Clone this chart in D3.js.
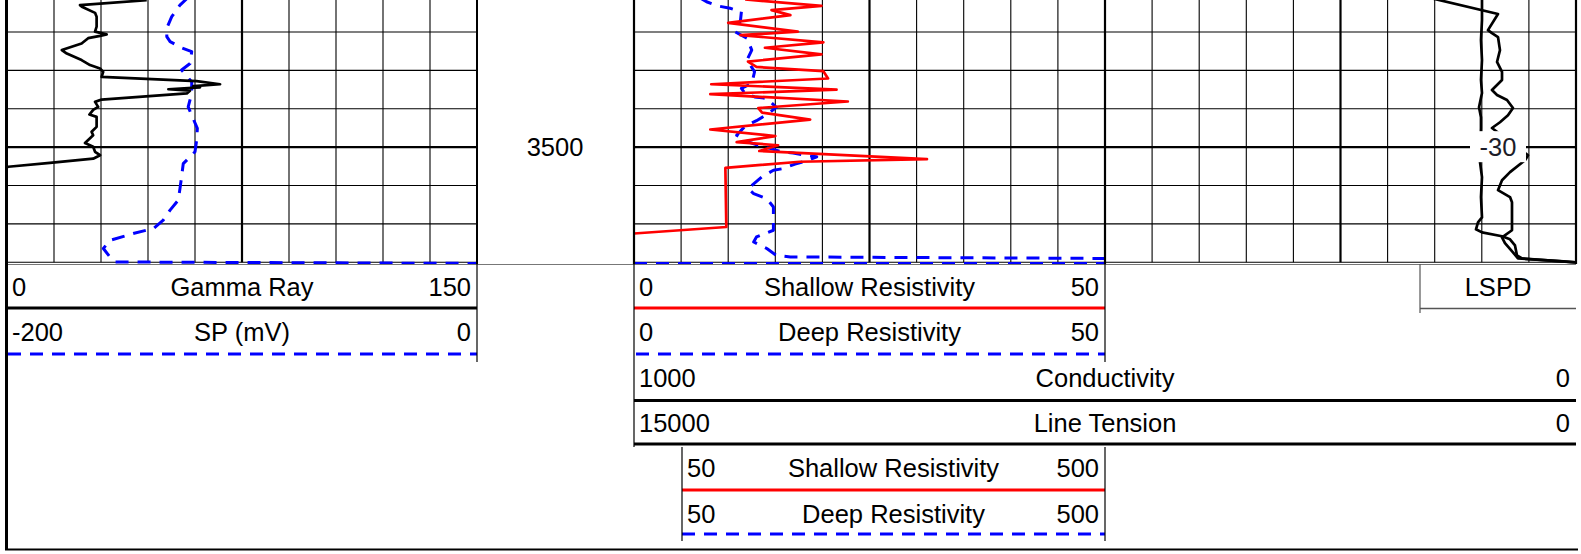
<!DOCTYPE html>
<html><head><meta charset="utf-8">
<script src="https://cdn.jsdelivr.net/npm/d3@7"></script>
<style>
html,body{margin:0;padding:0;background:#fff;}
svg{display:block;font-family:"Liberation Sans",Arial,sans-serif;}
</style></head><body>
<svg id="c" width="1581" height="554"></svg>
<script>
// ---------------- DATA ----------------
const depthTicks = [3460, 3470, 3480, 3490, 3500, 3510, 3520, 3530];
const depthLabels = ["3500"];

const gammaDepth = [3461.7,3463.0,3463.4,3465.0,3466.0,3468.6,3469.9,3470.6,3471.0,3471.6,3473.0,3474.7,3475.6,3477.3,3478.6,3479.5,3480.4,3481.7,3482.8,3483.6,3484.1,3484.4,3484.9,3485.3,3486.0,3487.6,3488.2,3489.5,3490.3,3491.5,3492.1,3494.7,3496.0,3496.9,3498.9,3499.9,3501.2,3502.1,3503.0,3504.1,3505.1,3505.6];
const gammaValue = [44.6,23.3,23.9,28.1,28.6,28.6,28.1,31.8,29.7,25.9,23.8,17.5,19.1,23.8,26.5,29.7,30.7,30.2,60.5,68.0,59.5,61.6,51.5,58.4,57.4,30.2,28.1,29.1,27.5,26.3,28.6,28.6,27.0,27.5,24.9,27.5,28.1,29.7,27.5,13.7,0.4,-1.0];

const spDepth = [3461.0,3463.0,3466.0,3469.0,3471.2,3472.5,3474.1,3475.1,3478.2,3479.9,3483.0,3486.0,3489.5,3491.7,3495.1,3498.2,3501.2,3504.3,3507.7,3510.8,3513.8,3516.4,3519.0,3521.2,3522.5,3524.3,3526.4,3528.6,3529.9,3530.0,3530.3];
const spValue = [-123.0,-126.4,-129.9,-132.0,-132.0,-130.6,-125.7,-121.4,-122.1,-125.7,-121.4,-121.4,-122.9,-121.4,-119.0,-119.3,-120.0,-125.0,-125.7,-126.4,-127.1,-130.6,-133.5,-137.7,-146.3,-156.2,-159.0,-156.2,-154.0,-120.0,0.5];

const shallowDepth = [3461.5,3463.2,3464.3,3465.6,3467.6,3469.9,3470.8,3472.7,3474.1,3475.8,3477.7,3479.1,3480.2,3482.1,3483.6,3485.0,3486.2,3488.1,3489.8,3491.0,3492.8,3495.4,3497.1,3498.7,3499.5,3501.0,3503.1,3503.8,3505.4,3520.8,3522.5];
const shallowValue = [11.8,19.9,14.6,16.6,10.0,17.4,11.3,20.1,13.9,19.9,12.1,13.0,20.1,20.6,8.2,21.5,8.1,22.7,13.2,13.6,18.7,8.1,15.0,10.9,15.3,13.3,31.1,17.6,9.7,9.8,0.0];

const deepDepth = [3461.1,3462.1,3463.2,3463.8,3464.7,3467.05,3469.9,3471.6,3474.7,3477.3,3480.35,3483.4,3484.7,3486.0,3486.9,3487.3,3489.6,3491.2,3493.1,3494.5,3496.9,3498.6,3499.5,3500.3,3501.2,3501.5,3502.1,3502.5,3503.6,3504.4,3505.6,3506.0,3507.7,3510.8,3512.1,3513.4,3515.6,3518.2,3521.65,3523.4,3524.7,3526.4,3528.2,3528.6,3529.0];
const deepValue = [7.0,7.7,8.9,10.2,11.4,11.3,10.7,12.0,12.5,12.0,12.8,12.5,11.4,11.8,12.8,14.1,15.1,14.3,13.0,11.8,10.9,12.1,13.2,14.4,15.7,16.9,18.2,19.4,18.3,17.1,15.8,14.8,13.6,12.1,12.7,14.1,14.8,14.8,14.8,13.0,12.7,14.1,15.1,16.6,50.5];

const deepBackupDepth = [3530.3, 3530.3];
const deepBackupValue = [50, 500];

const condDepth = [3461.1,3465.3,3469.5,3470.3,3471.3,3474.7,3477.8,3480.4,3482.5,3485.1,3486.4,3487.7,3489.8,3491.7,3493.5,3495.0,3502.1,3503.4,3506.5,3508.6,3511.2,3513.0,3514.35,3521.65,3523.5,3525.0,3527.4,3529.0,3529.7,3530.0];
const condValue = [310,165.6,186.9,178.4,165.6,161.4,167.7,157.1,157.1,178.4,167.7,146.5,133.8,144.4,161.4,178.4,101.9,108.3,140.1,157.1,165.6,140.1,135.9,135.9,157.1,150.8,133.8,123.2,34.0,0];

const tensDepth = [3461.1,3466.9,3472.1,3477.3,3482.5,3485.9,3489.6,3492.2,3495.0,3503.9,3507.8,3513.0,3518.3,3519.6,3521.4,3522.2,3523.2,3524.0,3525.6,3528.2,3529.0,3530.0];
const tensValue = [2994,2994,3026,2994,3026,2994,3089,3026,3026,3057,2994,3026,2994,3121,3185,2994,2357,2102,1943,1879,1720,32];

const lspdLabel = "-30";
const lspdLabelDepth = 3500;

// ---------------- LAYOUT ----------------
const FS = 25.5;
const svg = d3.select("#c");
const T1 = [7, 477], T3 = [634, 1105], T4 = [1105, 1576];
const DEPTH_TOP = 3461.65, DEPTH_BOT = 3530;
const y = d3.scaleLinear().domain([DEPTH_TOP, DEPTH_BOT]).range([0, 262.3]);
const TRACK_BOTTOM = 264.5;

const xGR = d3.scaleLinear().domain([0,150]).range(T1);
const xSP = d3.scaleLinear().domain([-200,0]).range(T1);
const xRes = d3.scaleLinear().domain([0,50]).range(T3);
const xResB = d3.scaleLinear().domain([50,500]).range(T3);
const xCond = d3.scaleLinear().domain([1000,0]).range(T4);
const xTens = d3.scaleLinear().domain([15000,0]).range(T4);

const defs = svg.append("defs");
function clip(id, x0, x1){
  defs.append("clipPath").attr("id", id).append("rect")
    .attr("x", x0).attr("y", 0).attr("width", x1-x0).attr("height", TRACK_BOTTOM);
}
clip("c1", T1[0], T1[1]); clip("c3", T3[0], T3[1]+4); clip("c4", T4[0]-3, T4[1]);

// grid
function grid(tr){
  const g = svg.append("g");
  const gx = d3.scaleLinear().domain([0,10]).range(tr);
  d3.range(1,10).forEach(i=>{
    g.append("line").attr("x1", gx(i)).attr("x2", gx(i)).attr("y1", 0).attr("y2", y(DEPTH_BOT))
      .attr("stroke", "#000").attr("stroke-width", i===5 ? 2.2 : 1.1);
  });
  depthTicks.forEach(d=>{
    g.append("line").attr("x1", tr[0]).attr("x2", tr[1]).attr("y1", y(d)).attr("y2", y(d))
      .attr("stroke", "#000").attr("stroke-width", d % 50 === 0 ? 2.2 : 1.1);
  });
}
grid(T1); grid(T3); grid(T4);

// curves
function curve(depths, values, xs, clipId, color, width, dash){
  const data = depths.map((d,i)=>({d, v: values[i]}));
  const line = d3.line().x(p=>xs(p.v)).y(p=>y(p.d));
  const p = svg.append("path").datum(data).attr("d", line)
    .attr("fill","none").attr("stroke", color).attr("stroke-width", width)
    .attr("stroke-linejoin","round").attr("clip-path", `url(#${clipId})`);
  if (dash) p.attr("stroke-dasharray", dash);
}
curve(spDepth, spValue, xSP, "c1", "#0000ff", 3, "13,9");
curve(gammaDepth, gammaValue, xGR, "c1", "#000", 2.7);
curve(deepBackupDepth, deepBackupValue, xResB, "c3", "#0000ff", 3, "13,9");
curve(deepDepth, deepValue, xRes, "c3", "#0000ff", 3, "13,9");
curve(shallowDepth, shallowValue, xRes, "c3", "#ff0000", 2.7);
curve(condDepth, condValue, xCond, "c4", "#000", 2.7);
curve(tensDepth, tensValue, xTens, "c4", "#000", 2.7);

// LSPD label on track 4
svg.append("rect").attr("x", 1470).attr("y", y(lspdLabelDepth)-16).attr("width", 56).attr("height", 31).attr("fill", "#fff");
svg.append("text").attr("x", 1498).attr("y", y(lspdLabelDepth)+9).attr("text-anchor","middle")
  .attr("font-size", FS).attr("fill", "#1c1c28").text(lspdLabel);

// depth labels
depthLabels.forEach(t=>{
  svg.append("text").attr("x", 555).attr("y", y(+t)+9).attr("text-anchor","middle")
    .attr("font-size", FS).attr("fill","#000").text(t);
});

// track borders
function vline(x, y1, y2, w, c){ svg.append("line").attr("x1",x).attr("x2",x).attr("y1",y1).attr("y2",y2).attr("stroke",c||"#000").attr("stroke-width",w); }
function hline(y0, x1, x2, w, c, dash){ const l=svg.append("line").attr("x1",x1).attr("x2",x2).attr("y1",y0).attr("y2",y0).attr("stroke",c||"#000").attr("stroke-width",w); if(dash) l.attr("stroke-dasharray",dash); }

vline(T1[1], 0, 264, 2);
vline(T3[0], 0, 264, 2.2);
vline(T3[1], 0, 264, 2.2);
vline(T4[1], 0, 264, 2.2);
hline(TRACK_BOTTOM, 7, 1576, 1.2, "#777");

// outer frame
vline(6.5, 0, 550, 3);
hline(549.5, 5, 1578, 2);

// headers
function txt(x, yb, s, anchor){
  svg.append("text").attr("x", x).attr("y", yb).attr("text-anchor", anchor).attr("font-size", FS).attr("fill","#000").text(s);
}
function row(x0, x1, yb, l, title, r){
  txt(x0+5, yb, l, "start");
  txt((x0+x1)/2, yb, title, "middle");
  txt(x1-6, yb, r, "end");
}
// track 1
row(7, 477, 296, "0", "Gamma Ray", "150");
hline(308, 7, 477, 3, "#000");
row(7, 477, 341, "-200", "SP (mV)", "0");
hline(354, 8, 477, 3, "#0000ff", "13,9");
vline(477, 264, 362, 1.2);
// track 3
row(634, 1105, 296, "0", "Shallow Resistivity", "50");
hline(308, 634, 1105, 3, "#ff0000");
row(634, 1105, 341, "0", "Deep Resistivity", "50");
hline(354, 636, 1105, 3, "#0000ff", "13,9");
vline(634, 264, 447, 1.2);
vline(1105, 264, 362, 1.2);
row(634, 1576, 387, "1000", "Conductivity", "0");
hline(400.5, 634, 1576, 3, "#000");
row(634, 1576, 432, "15000", "Line Tension", "0");
hline(444, 634, 1576, 3, "#000");
row(682, 1105, 477, "50", "Shallow Resistivity", "500");
hline(490, 682, 1105, 3, "#ff0000");
row(682, 1105, 523, "50", "Deep Resistivity", "500");
hline(534, 682, 1105, 3, "#0000ff", "13,9");
vline(682, 447, 541, 1.2);
vline(1105, 447, 541, 1.2);
// LSPD
txt(1498, 296, "LSPD", "middle");
vline(1420, 264, 313, 1.2, "#555");
hline(308.5, 1420, 1576, 1.5, "#555");
</script>
</body></html>
